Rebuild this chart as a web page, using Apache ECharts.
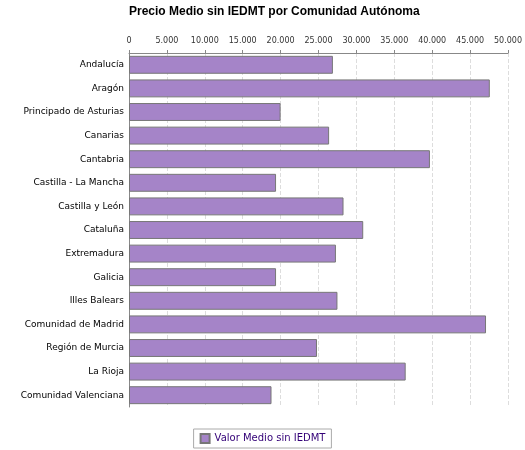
<!DOCTYPE html>
<html><head><meta charset="utf-8">
<script src="https://cdn.jsdelivr.net/npm/echarts@6/dist/echarts.min.js"></script>
<style>html,body{margin:0;background:#fff}#c{width:525px;height:450px}</style>
</head><body><div id="c"></div>
<script>
var regions = ['Andalucía', 'Aragón', 'Principado de Asturias', 'Canarias', 'Cantabria', 'Castilla - La Mancha', 'Castilla y León', 'Cataluña', 'Extremadura', 'Galicia', 'Illes Balears', 'Comunidad de Madrid', 'Región de Murcia', 'La Rioja', 'Comunidad Valenciana'];
var precio = [26900, 47600, 20000, 26400, 39700, 19400, 28300, 30900, 27300, 19400, 27500, 47100, 24800, 36500, 18800];

var myChart = echarts.init(document.getElementById('c'));
option = {
    backgroundColor: '#fff',
    animation: false,
    textStyle: { fontFamily: 'DejaVu Sans' },
    title: {
        text: 'Precio Medio sin IEDMT por Comunidad Autónoma',
        left: 124, top: 1,
        textStyle: { fontSize: 12, fontWeight: 'bold', color: '#000', fontFamily: 'Liberation Sans' }
    },
    grid: { left: 129, right: 8, top: 53, bottom: 43, containLabel: false },
    xAxis: {
        type: 'value', position: 'top', min: 0, max: 50000, interval: 5000,
        axisLine: { show: true, lineStyle: { color: '#888' } },
        axisTick: { show: true, length: 3, lineStyle: { color: '#888' } },
        axisLabel: { fontSize: 8, color: '#333', margin: 8,
            formatter: function (v) { return v === 0 ? '0' : (v / 1000).toFixed(3); } },
        splitLine: { lineStyle: { color: '#ddd', type: 'dashed' } }
    },
    yAxis: {
        type: 'category', data: regions, inverse: true,
        axisLine: { show: true, lineStyle: { color: '#888' } },
        axisTick: { show: false },
        axisLabel: { fontSize: 9, color: '#000', margin: 5 }
    },
    legend: {
        bottom: 2, left: 'center', itemWidth: 9, itemHeight: 9,
        borderColor: '#aaa', borderWidth: 1, padding: [4, 6],
        textStyle: { fontSize: 10, color: '#330077' },
        data: [{ name: 'Valor Medio sin IEDMT', icon: 'rect' }]
    },
    series: [{
        name: 'Valor Medio sin IEDMT', type: 'bar', data: precio,
        barCategoryGap: '24%',
        itemStyle: { color: '#a584c8', borderColor: '#777', borderWidth: 1 }
    }]
};
myChart.setOption(option);
</script></body></html>
